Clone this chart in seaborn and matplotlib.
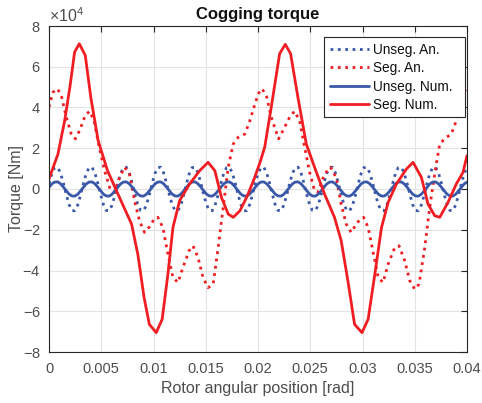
import numpy as np
import pandas as pd
import matplotlib
matplotlib.use("Agg")
import matplotlib.pyplot as plt
from matplotlib.ticker import ScalarFormatter, FixedLocator, FixedFormatter
import seaborn as sns

# ---------------- data (torque values in units of 1e4 Nm) ----------------
# Unsegmented curves: sampled on a regular angular grid (step in rad)
unseg_step = 0.000274
unseg_an = [
    0.26, 0.76, 1.05, 1.07, 0.80, 0.31, -0.26, -0.76, -1.05, -1.07, -0.80, -0.31,
    0.26, 0.76, 1.05, 1.07, 0.80, 0.31, -0.26, -0.76, -1.05, -1.07, -0.80, -0.31,
    0.26, 0.76, 1.05, 1.07, 0.80, 0.31, -0.26, -0.76, -1.05, -1.07, -0.80, -0.31,
    0.26, 0.76, 1.05, 1.07, 0.80, 0.31, -0.26, -0.76, -1.05, -1.07, -0.80, -0.31,
    0.26, 0.76, 1.05, 1.07, 0.80, 0.31, -0.26, -0.76, -1.05, -1.07, -0.80, -0.31,
    0.26, 0.76, 1.05, 1.07, 0.80, 0.31, -0.26, -0.76, -1.05, -1.07, -0.80, -0.31,
    0.26, 0.76, 1.05, 1.07, 0.80, 0.31, -0.26, -0.76, -1.05, -1.07, -0.80, -0.31,
    0.26, 0.76, 1.05, 1.07, 0.80, 0.31, -0.26, -0.76, -1.05, -1.07, -0.80, -0.31,
    0.26, 0.76, 1.05, 1.07, 0.80, 0.31, -0.26, -0.76, -1.05, -1.07, -0.80, -0.31,
    0.26, 0.76, 1.05, 1.07, 0.80, 0.31, -0.26, -0.76, -1.05, -1.07, -0.80, -0.31,
    0.26, 0.76, 1.05, 1.07, 0.80, 0.31, -0.26, -0.76, -1.05, -1.07, -0.80, -0.31,
    0.26, 0.76, 1.05, 1.07, 0.80, 0.31, -0.26, -0.76, -1.05, -1.07, -0.80, -0.31,
    0.26, 0.76, 1.05,
]
unseg_num = [
    0.08, 0.25, 0.34, 0.35, 0.26, 0.10, -0.08, -0.25, -0.34, -0.35, -0.26, -0.10,
    0.08, 0.25, 0.34, 0.35, 0.26, 0.10, -0.08, -0.25, -0.34, -0.35, -0.26, -0.10,
    0.08, 0.25, 0.34, 0.35, 0.26, 0.10, -0.08, -0.25, -0.34, -0.35, -0.26, -0.10,
    0.08, 0.25, 0.34, 0.35, 0.26, 0.10, -0.08, -0.25, -0.34, -0.35, -0.26, -0.10,
    0.08, 0.25, 0.34, 0.35, 0.26, 0.10, -0.08, -0.25, -0.34, -0.35, -0.26, -0.10,
    0.08, 0.25, 0.34, 0.35, 0.26, 0.10, -0.08, -0.25, -0.34, -0.35, -0.26, -0.10,
    0.08, 0.25, 0.34, 0.35, 0.26, 0.10, -0.08, -0.25, -0.34, -0.35, -0.26, -0.10,
    0.08, 0.25, 0.34, 0.35, 0.26, 0.10, -0.08, -0.25, -0.34, -0.35, -0.26, -0.10,
    0.08, 0.25, 0.34, 0.35, 0.26, 0.10, -0.08, -0.25, -0.34, -0.35, -0.26, -0.10,
    0.08, 0.25, 0.34, 0.35, 0.26, 0.10, -0.08, -0.25, -0.34, -0.35, -0.26, -0.10,
    0.08, 0.25, 0.34, 0.35, 0.26, 0.10, -0.08, -0.25, -0.34, -0.35, -0.26, -0.10,
    0.08, 0.25, 0.34, 0.35, 0.26, 0.10, -0.08, -0.25, -0.34, -0.35, -0.26, -0.10,
    0.08, 0.25, 0.34,
]

seg_an_x = [
    0.0, 0.00038, 0.0008, 0.00118, 0.00166, 0.00213, 0.00252, 0.00293, 0.00347, 0.00389,
    0.0043, 0.00484, 0.00532, 0.00589, 0.00627, 0.00675, 0.00723, 0.00771, 0.00818, 0.00866,
    0.00914, 0.00962, 0.0101, 0.01042, 0.0109, 0.01138, 0.01186, 0.01234, 0.01282, 0.0134,
    0.01378, 0.01426, 0.01474, 0.01522, 0.01571, 0.01619, 0.01667, 0.01715, 0.01763, 0.01811,
    0.01875, 0.01923, 0.01971, 0.02006, 0.02038, 0.0208, 0.02127, 0.02197, 0.02255, 0.02305,
    0.0235, 0.02398, 0.02446, 0.02494, 0.02541, 0.02573, 0.02637, 0.02694, 0.02748, 0.02796,
    0.02844, 0.02892, 0.0294, 0.02975, 0.0301, 0.03054, 0.03118, 0.0315, 0.03197, 0.03245,
    0.03309, 0.0335, 0.03404, 0.03452, 0.035, 0.03541, 0.03596, 0.03643, 0.03701, 0.03739,
    0.03796, 0.0385, 0.03898, 0.03946, 0.04,
]
seg_an = [
    4.02, 4.75, 4.92, 4.59, 3.52, 2.70, 2.46, 2.87, 3.61, 3.82,
    3.36, 1.97, 0.90, -0.08, -0.16, 0.57, 1.07, 0.74, -0.57, -1.56,
    -2.13, -1.85, -1.45, -1.39, -1.89, -3.20, -4.34, -4.59, -3.85, -3.03,
    -2.79, -3.36, -4.34, -4.84, -4.67, -2.87, -0.90, 1.07, 2.21, 2.54,
    2.70, 3.36, 4.18, 4.70, 4.92, 4.59, 3.52, 2.46, 3.03, 3.55,
    3.82, 3.36, 2.05, 0.82, -0.08, -0.16, 0.74, 1.07, 0.57, -0.74,
    -1.72, -2.13, -1.72, -1.50, -1.39, -1.89, -3.52, -4.34, -4.59, -3.69,
    -2.87, -2.79, -3.52, -4.50, -4.92, -4.67, -2.87, -0.90, 1.07, 2.21,
    2.51, 2.70, 3.36, 4.50, 4.84,
]

seg_num_x = [
    0.0, 0.00086, 0.0015, 0.002, 0.00245, 0.0029, 0.00347, 0.004, 0.0047, 0.0056,
    0.0066, 0.0079, 0.0085, 0.0091, 0.0096, 0.01026, 0.01083, 0.01138, 0.01186, 0.0125,
    0.01346, 0.01442, 0.01522, 0.01587, 0.0165, 0.01715, 0.01763, 0.01827, 0.01891, 0.0196,
    0.02019, 0.02064, 0.02127, 0.02207, 0.02261, 0.02312, 0.02382, 0.02462, 0.02541, 0.02637,
    0.02732, 0.02796, 0.0286, 0.02924, 0.02995, 0.03054, 0.03118, 0.03182, 0.03245, 0.03325,
    0.0342, 0.03484, 0.03564, 0.03627, 0.03691, 0.03739, 0.03818, 0.03898, 0.03962, 0.04,
]
seg_num = [
    0.49, 1.72, 3.36, 5.00, 6.72, 7.13, 6.56, 4.50, 2.38, 0.90,
    -0.25, -1.72, -3.20, -5.33, -6.64, -7.05, -6.39, -4.18, -1.89, -0.57,
    0.25, 0.90, 1.31, 0.90, -0.41, -1.23, -1.39, -1.07, -0.41, 0.45,
    1.30, 2.05, 4.02, 6.64, 7.10, 6.64, 4.50, 2.21, 1.07, -0.25,
    -1.39, -2.54, -4.50, -6.64, -7.05, -6.39, -4.18, -1.89, -0.66, 0.25,
    0.98, 1.31, 0.57, -0.74, -1.31, -1.39, -0.66, 0.25, 0.82, 1.64,
]

series_names = ["Unseg. An.", "Seg. An.", "Unseg. Num.", "Seg. Num."]
x_ticks = [0, 0.005, 0.01, 0.015, 0.02, 0.025, 0.03, 0.035, 0.04]
x_tick_labels = ["0", "0.005", "0.01", "0.015", "0.02", "0.025", "0.03", "0.035", "0.04"]
y_ticks = [-80000, -60000, -40000, -20000, 0, 20000, 40000, 60000, 80000]
scale = 1e4

# ---------------- style ----------------
sns.set_theme(style="whitegrid")
plt.rcParams["font.family"] = ["Liberation Sans", "DejaVu Sans"]
plt.rcParams["mathtext.fontset"] = "custom"
plt.rcParams["mathtext.rm"] = "Liberation Sans"

blue = "#3a58a8"
red = "#f01e23"
txt = "#4d4d4d"

fig = plt.figure(figsize=(4.82, 4.03), dpi=100)
ax = fig.add_axes([49 / 482, 1 - 352 / 403, 418 / 482, 326 / 403])
ax.set_facecolor("white")

x_un = np.arange(len(unseg_an)) * unseg_step
df_ua = pd.DataFrame({"x": x_un, "y": np.array(unseg_an) * scale})
df_sa = pd.DataFrame({"x": seg_an_x, "y": np.array(seg_an) * scale})
df_un = pd.DataFrame({"x": x_un, "y": np.array(unseg_num) * scale})
df_sn = pd.DataFrame({"x": seg_num_x, "y": np.array(seg_num) * scale})

pad_lbl = "\u2002"
sns.lineplot(data=df_ua, x="x", y="y", ax=ax, color=blue, linestyle=":", linewidth=2.0,
             label=series_names[0] + pad_lbl)
sns.lineplot(data=df_sa, x="x", y="y", ax=ax, color=red, linestyle=":", linewidth=2.0,
             label=series_names[1] + pad_lbl)
sns.lineplot(data=df_un, x="x", y="y", ax=ax, color=blue, linestyle="-", linewidth=2.0,
             label=series_names[2] + pad_lbl)
sns.lineplot(data=df_sn, x="x", y="y", ax=ax, color=red, linestyle="-", linewidth=2.0,
             label=series_names[3] + pad_lbl)

ax.set_xlim(0, 0.04)
ax.set_ylim(-80000, 80000)
ax.xaxis.set_major_locator(FixedLocator(x_ticks))
ax.xaxis.set_major_formatter(FixedFormatter(x_tick_labels))
ax.yaxis.set_major_locator(FixedLocator(y_ticks))
fmt = ScalarFormatter(useMathText=True)
fmt.set_powerlimits((0, 0))
ax.yaxis.set_major_formatter(fmt)

ax.grid(True, color="#e3e3e3", linewidth=0.8)
for s in ax.spines.values():
    s.set_visible(True)
    s.set_color("#262626")
    s.set_linewidth(0.8)
ax.tick_params(axis="both", direction="in", length=4, width=0.8, color="#262626",
               top=True, right=True, labelsize=10.5, labelcolor=txt)
ax.tick_params(axis="x", pad=7)
ax.tick_params(axis="y", pad=6)
ax.yaxis.get_offset_text().set_fontsize(11.5)
ax.yaxis.get_offset_text().set_color(txt)

ax.set_xlabel("Rotor angular position [rad]", fontsize=11.5, color=txt, labelpad=4)
ax.set_ylabel("Torque [Nm]", fontsize=11.5, color=txt, labelpad=-1)
ax.set_title("Cogging torque", fontsize=12, fontweight="bold", color="#111111", pad=5)

leg = ax.legend(loc="upper right", bbox_to_anchor=(0.995, 0.966), borderaxespad=0,
                fontsize=9.8, frameon=True, fancybox=False, framealpha=1,
                edgecolor="#262626", handlelength=2.9, handletextpad=0.3,
                labelspacing=0.33, borderpad=0.4)
leg.get_frame().set_linewidth(0.8)
for t in leg.get_texts():
    t.set_color("#111111")

fig.savefig("out.png", dpi=100)
